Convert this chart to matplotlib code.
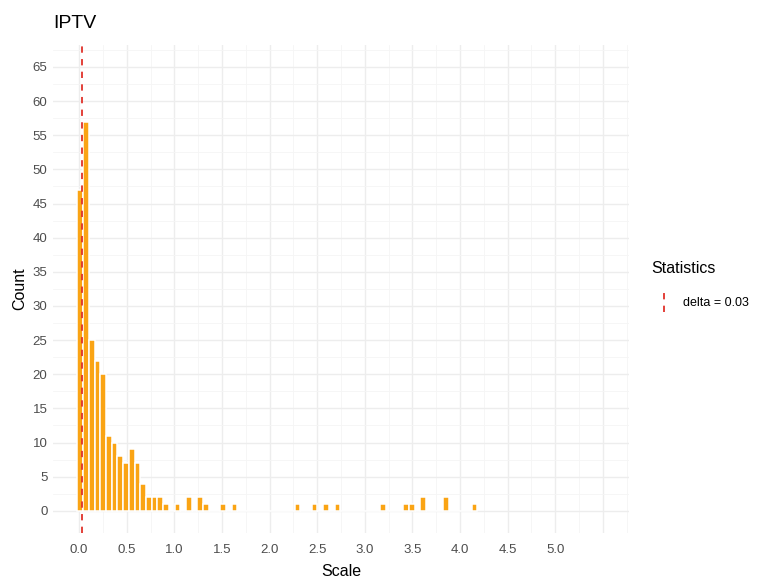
import matplotlib
matplotlib.use("Agg")
import matplotlib.pyplot as plt
from matplotlib.lines import Line2D
import numpy as np

plt.rcParams['font.family'] = ['Liberation Sans', 'DejaVu Sans']

# histogram of the scale estimates, 70 bins of width 0.06
bin_width = 0.06
first_center = 0.012
counts = [47, 57, 25, 22, 20, 11, 10, 8, 7, 9, 7, 4, 2, 2, 2, 1,
          0, 1, 0, 2, 0, 2, 1, 0, 0, 1, 0, 1, 0, 0,
          0, 0, 0, 0, 0, 0, 0, 0, 1, 0, 0, 1, 0, 1, 0,
          1, 0, 0, 0, 0, 0, 0, 0, 1, 0, 0, 0, 1, 1, 0,
          2, 0, 0, 0, 2, 0, 0, 0, 0, 1]
bin_centers = first_center + bin_width * np.arange(len(counts))

delta = 0.03
x_breaks = np.arange(0, 5.51, 0.5)
x_labels = ['%.1f' % v if v <= 5.0 else '' for v in x_breaks]
y_breaks = np.arange(0, 66, 5)

fig = plt.figure(figsize=(7.61, 5.84), dpi=100)
ax = fig.add_axes([0.0696, 0.0873, 0.757, 0.836])

ax.bar(bin_centers, counts, width=bin_width, color='#FAA414',
       edgecolor='white', linewidth=1.1, zorder=3)
ax.axvline(delta, color='#E0322A', linestyle=(0, (3.5, 3.5)), linewidth=1.3, zorder=4)

ax.set_xlim(-0.275, 5.775)
ax.set_ylim(-3.25, 68.25)
ax.set_xticks(x_breaks)
ax.set_xticklabels(x_labels)
ax.set_yticks(y_breaks)
ax.set_xticks(np.arange(0.25, 5.8, 0.5), minor=True)
ax.set_yticks(np.arange(2.5, 68, 5), minor=True)

ax.grid(which='major', color='#EDEDED', linewidth=1.0, zorder=0)
ax.grid(which='minor', color='#F5F5F5', linewidth=0.6, zorder=0)
for s in ax.spines.values():
    s.set_visible(False)
ax.tick_params(which='both', length=0)
ax.tick_params(axis='both', labelsize=9.5, labelcolor='#4D4D4D')
ax.tick_params(axis='x', pad=8)
ax.tick_params(axis='y', pad=4)

ax.set_xlabel('Scale', fontsize=11.5, labelpad=6)
ax.set_ylabel('Count', fontsize=11.5, labelpad=4)
fig.text(0.0696, 0.952, 'IPTV', fontsize=14, ha='left', va='baseline')

# legend for the reference line
fig.text(0.856, 0.532, 'Statistics', fontsize=11.5, ha='left', va='baseline')
fig.add_artist(Line2D([0.8725, 0.8725], [0.465, 0.5], transform=fig.transFigure,
                      color='#E0322A', linestyle=(0, (3.5, 3.5)), linewidth=1.3))
fig.text(0.898, 0.482, 'delta = 0.03', fontsize=9, ha='left', va='center')

fig.savefig('out.png', dpi=100)
